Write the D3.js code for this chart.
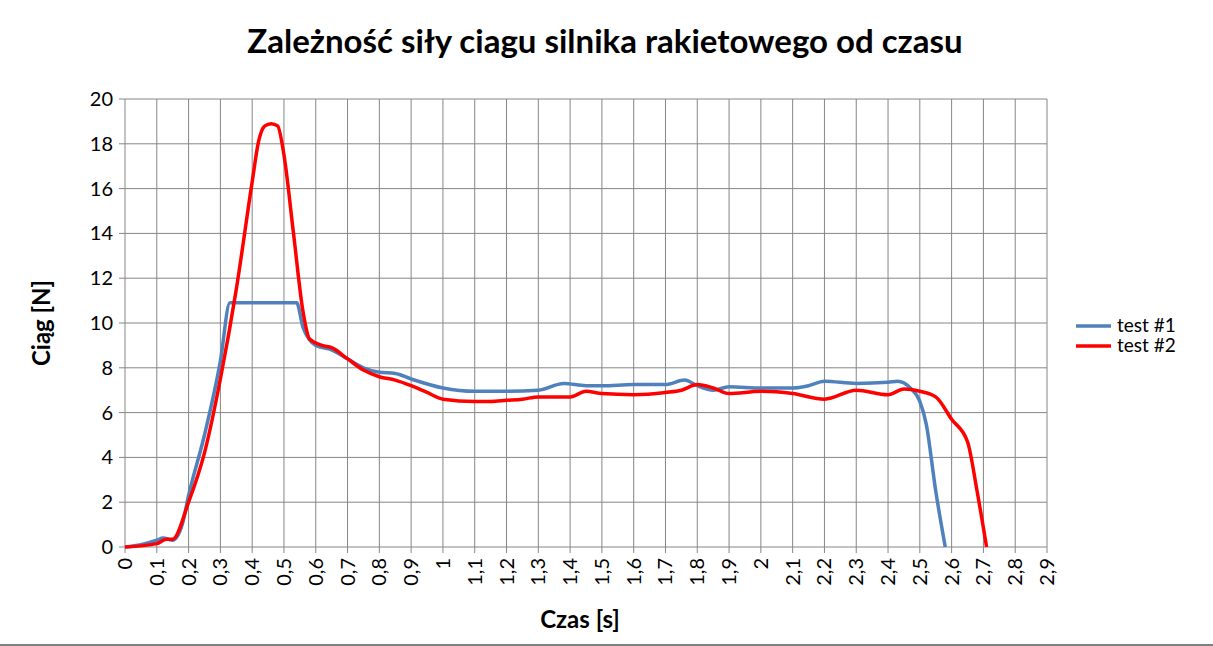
<!DOCTYPE html><html><head><meta charset="utf-8"><script src="https://cdn.jsdelivr.net/npm/d3@7"></script>
<style>body{margin:0;background:#fff}text{font-family:Lato,"Open Sans",sans-serif}</style></head><body><svg id="c" width="1213" height="646"></svg>
<script>
const series1Name="test #1", series2Name="test #2";
const t1=[0,0.05,0.1,0.12,0.15,0.18,0.2,0.25,0.3,0.33,0.54,0.56,0.6,0.65,0.7,0.75,0.8,0.85,0.9,1.0,1.1,1.2,1.3,1.38,1.45,1.5,1.6,1.7,1.76,1.8,1.85,1.9,2.0,2.1,2.15,2.2,2.3,2.4,2.43,2.47,2.5,2.52,2.55,2.58];
const v1=[0,0.1,0.3,0.4,0.3,1,2.3,5,8.3,10.9,10.9,9.8,9.0,8.8,8.4,8.0,7.8,7.75,7.5,7.1,6.95,6.95,7.0,7.3,7.2,7.2,7.25,7.25,7.45,7.2,7.0,7.15,7.1,7.1,7.2,7.4,7.3,7.35,7.4,7.1,6.5,5.5,2.5,0];
const t2=[0,0.1,0.13,0.15,0.2,0.25,0.3,0.35,0.4,0.42,0.44,0.46,0.48,0.5,0.53,0.56,0.58,0.62,0.65,0.7,0.75,0.8,0.85,0.9,0.95,1.0,1.1,1.15,1.2,1.25,1.3,1.4,1.45,1.5,1.6,1.7,1.75,1.8,1.85,1.9,2.0,2.1,2.2,2.3,2.4,2.45,2.5,2.55,2.6,2.65,2.68,2.71];
const v2=[0,0.15,0.35,0.35,2,4.2,7.5,11.5,16.3,18.1,18.8,18.9,18.8,17.5,14,10.5,9.3,9.0,8.9,8.4,7.9,7.6,7.45,7.2,6.9,6.6,6.5,6.5,6.55,6.6,6.7,6.7,6.95,6.85,6.8,6.9,7.0,7.25,7.1,6.85,6.95,6.85,6.6,7.0,6.8,7.05,6.95,6.7,5.7,4.7,2.5,0];
const xTicks=d3.range(0,30).map(i=>i/10);
const yTicks=d3.range(0,21,2);
const svg=d3.select("#c");
const x=d3.scaleLinear().domain([0,2.9]).range([125,1047]);
const y=d3.scaleLinear().domain([0,20]).range([547,99]);
const g=svg.append("g");
g.selectAll(".vg").data(xTicks).join("line").attr("x1",d=>x(d)).attr("x2",d=>x(d)).attr("y1",99).attr("y2",553).attr("stroke","#868686");
g.selectAll(".hg").data(yTicks).join("line").attr("x1",119).attr("x2",1047).attr("y1",d=>y(d)).attr("y2",d=>y(d)).attr("stroke","#868686");
g.selectAll(".yl").data(yTicks).join("text").attr("x",113).attr("y",d=>y(d)+7).attr("text-anchor","end").attr("font-size",20).text(d=>d);
g.selectAll(".xl").data(xTicks).join("text").attr("transform",d=>`translate(${x(d)+7},558) rotate(-90)`).attr("text-anchor","end").attr("font-size",20).text(d=>d3.format(".1~f")(d).replace(".",","));
const line=d3.line().x(d=>x(d[0])).y(d=>y(d[1])).curve(d3.curveMonotoneX);
g.append("path").attr("d",line(t1.map((t,i)=>[t,v1[i]]))).attr("fill","none").attr("stroke","#4f81bd").attr("stroke-width",3.5);
g.append("path").attr("d",line(t2.map((t,i)=>[t,v2[i]]))).attr("fill","none").attr("stroke","#ff0000").attr("stroke-width",3.5);
svg.append("text").attr("x",605).attr("y",53).attr("text-anchor","middle").attr("font-size",33).attr("font-weight","bold").text("Zależność siły ciagu silnika rakietowego od czasu");
svg.append("text").attr("transform","translate(50,323) rotate(-90)").attr("text-anchor","middle").attr("font-size",24).attr("font-weight","bold").text("Ciąg [N]");
svg.append("text").attr("x",580).attr("y",628).attr("text-anchor","middle").attr("font-size",24).attr("font-weight","bold").text("Czas [s]");
[[series1Name,"#4f81bd",326],[series2Name,"#ff0000",346]].forEach(([n,c,yy])=>{
 svg.append("line").attr("x1",1076).attr("x2",1111).attr("y1",yy).attr("y2",yy).attr("stroke",c).attr("stroke-width",3.5);
 svg.append("text").attr("x",1117).attr("y",yy+6).attr("font-size",19).text(n);});
svg.append("line").attr("x1",0).attr("x2",1213).attr("y1",645).attr("y2",645).attr("stroke","#000");
</script></body></html>
